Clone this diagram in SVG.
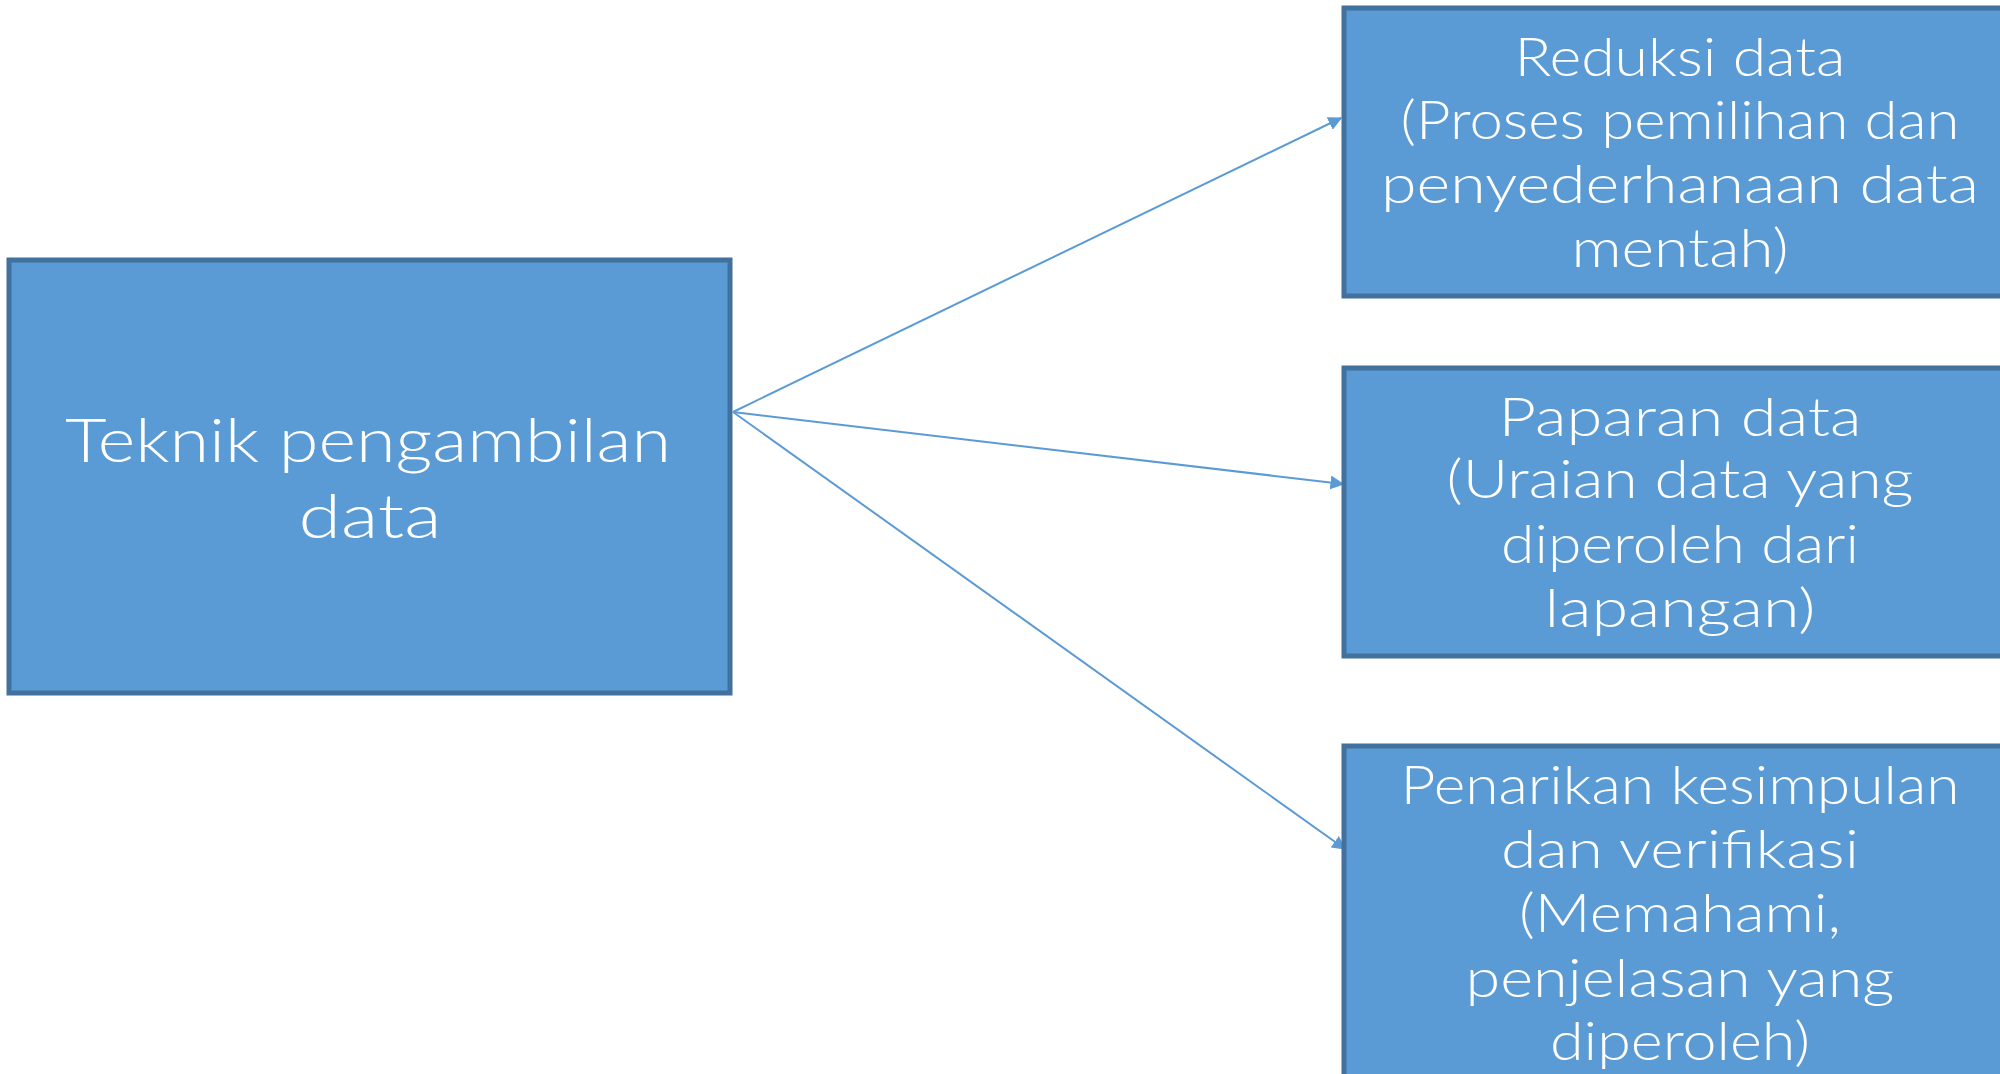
<svg xmlns="http://www.w3.org/2000/svg" width="2000" height="1074" viewBox="0 0 2000 1074">
<style>
.box{fill:#5B9BD5;stroke:#41719C;stroke-width:5}
.t{fill:#FFFFFF;font-family:Lato,"Liberation Sans",sans-serif;font-weight:300;text-anchor:middle}
.tl{font-size:61px}
.tr{font-size:53px}
.c{stroke:#5B9BD5;stroke-width:2;fill:none}
</style>
<defs>
<marker id="ah" viewBox="0 0 10 10" refX="9" refY="5" markerWidth="7" markerHeight="7" orient="auto" markerUnits="strokeWidth">
<path d="M0,0 L10,5 L0,10 z" fill="#5B9BD5"/>
</marker>
</defs>
<rect width="2000" height="1074" fill="#FFFFFF"/>
<g id="connectors">
<line class="c" x1="733" y1="412" x2="1341" y2="118" marker-end="url(#ah)"/>
<line class="c" x1="733" y1="412" x2="1343" y2="484" marker-end="url(#ah)"/>
<line class="c" x1="733" y1="412" x2="1345" y2="849" marker-end="url(#ah)"/>
</g>
<g id="node-teknik">
<rect class="box" x="9" y="260" width="721" height="433"/>
<text class="t tl"><tspan x="368" y="462" textLength="606" lengthAdjust="spacingAndGlyphs">Teknik pengambilan</tspan><tspan x="370" y="538" textLength="143" lengthAdjust="spacingAndGlyphs">data</tspan></text>
</g>
<g id="node-reduksi">
<rect class="box" x="1344" y="8" width="680" height="288"/>
<text class="t tr"><tspan x="1680" y="76" textLength="331" lengthAdjust="spacingAndGlyphs">Reduksi data</tspan><tspan x="1680" y="139" textLength="559" lengthAdjust="spacingAndGlyphs">(Proses pemilihan dan</tspan><tspan x="1680" y="203" textLength="598" lengthAdjust="spacingAndGlyphs">penyederhanaan data</tspan><tspan x="1680" y="267" textLength="217" lengthAdjust="spacingAndGlyphs">mentah)</tspan></text>
</g>
<g id="node-paparan">
<rect class="box" x="1344" y="368" width="680" height="288"/>
<text class="t tr"><tspan x="1680" y="436" textLength="363" lengthAdjust="spacingAndGlyphs">Paparan data</tspan><tspan x="1680" y="498" textLength="467" lengthAdjust="spacingAndGlyphs">(Uraian data yang</tspan><tspan x="1680" y="563" textLength="358" lengthAdjust="spacingAndGlyphs">diperoleh dari</tspan><tspan x="1680" y="627" textLength="271" lengthAdjust="spacingAndGlyphs">lapangan)</tspan></text>
</g>
<g id="node-penarikan">
<rect class="box" x="1344" y="746" width="680" height="360"/>
<text class="t tr"><tspan x="1680" y="804" textLength="559" lengthAdjust="spacingAndGlyphs">Penarikan kesimpulan</tspan><tspan x="1680" y="868" textLength="358" lengthAdjust="spacingAndGlyphs">dan verifikasi</tspan><tspan x="1680" y="932" textLength="322" lengthAdjust="spacingAndGlyphs">(Memahami,</tspan><tspan x="1680" y="997" textLength="429" lengthAdjust="spacingAndGlyphs">penjelasan yang</tspan><tspan x="1680" y="1060" textLength="260" lengthAdjust="spacingAndGlyphs">diperoleh)</tspan></text>
</g>
</svg>
